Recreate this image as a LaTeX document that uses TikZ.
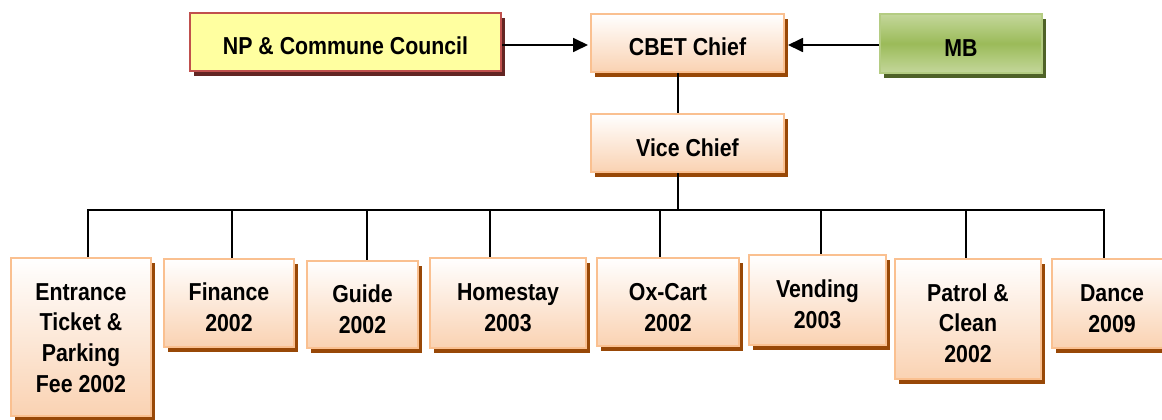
\documentclass[tikz,border=0pt]{standalone}
\usepackage{fontspec}
\newfontfamily\chartfont{Liberation Sans}[FakeStretch=0.87]
\usetikzlibrary{arrows.meta,shadows}

\definecolor{peachline}{RGB}{250,192,144}
\definecolor{peach}{RGB}{250,210,178}
\definecolor{peachshadow}{RGB}{152,72,7}
\definecolor{lemon}{RGB}{255,255,160}
\definecolor{lemonline}{RGB}{192,80,77}
\definecolor{lemonshadow}{RGB}{99,37,35}
\definecolor{leafpale}{RGB}{196,215,155}
\definecolor{leaf}{RGB}{155,187,89}
\definecolor{leafline}{RGB}{180,204,130}
\definecolor{leafshadow}{RGB}{79,98,40}

\begin{document}
\begin{tikzpicture}[x=1pt,y=-1pt,
  panel/.style={rectangle, inner sep=0pt, line width=2pt},
  unitbox/.style={panel, draw=peachline, top color=white, bottom color=peach,
    drop shadow={shadow xshift=4pt,shadow yshift=-5pt,fill=peachshadow,opacity=1}},
  councilbox/.style={panel, draw=lemonline, fill=lemon,
    drop shadow={shadow xshift=4pt,shadow yshift=-5pt,fill=lemonshadow,opacity=1}},
  mbbox/.style={panel, draw=leafline, top color=leafpale, bottom color=leafpale, middle color=leaf,
    drop shadow={shadow xshift=4pt,shadow yshift=-5pt,fill=leafshadow,opacity=1}},
  lbl/.style={inner sep=0pt, align=center,
    font=\chartfont\bfseries\fontsize{24.5}{30.7}\selectfont},
  wire/.style={draw=black, line width=1.7pt},
  feed/.style={draw=black, line width=1.8pt, -{Triangle[length=15pt,width=14pt]}}
]
\useasboundingbox (0,0) rectangle (1162,420);

% top row
\node[councilbox, minimum width=311pt, minimum height=58pt] (np) at (345.5,42) {};
\node[unitbox, minimum width=193pt, minimum height=58pt] (cbet) at (687.5,43) {};
\node[mbbox, minimum width=162pt, minimum height=59pt] (mb) at (961,43.5) {};
\node[unitbox, minimum width=193pt, minimum height=58pt] (vice) at (687.5,143) {};

\node[lbl] (np-t) at ([yshift=-4pt]np.center) {NP \& Commune Council};
\node[lbl] (cbet-t) at ([yshift=-4pt]cbet.center) {CBET Chief};
\node[lbl] (mb-t) at ([yshift=-4.5pt]mb.center) {MB};
\node[lbl] (vice-t) at ([yshift=-4.5pt]vice.center) {Vice Chief};

% unit boxes
\node[unitbox, minimum width=140pt, minimum height=158pt] (ent) at (81,337) {};
\node[unitbox, minimum width=130pt, minimum height=88pt] (fin) at (229,303) {};
\node[unitbox, minimum width=111pt, minimum height=87pt] (guide) at (362.5,304.5) {};
\node[unitbox, minimum width=156pt, minimum height=90pt] (home) at (508,303) {};
\node[unitbox, minimum width=142pt, minimum height=88pt] (ox) at (668,302) {};
\node[unitbox, minimum width=137pt, minimum height=90pt] (vend) at (817.5,300) {};
\node[unitbox, minimum width=146pt, minimum height=120pt] (patrol) at (968,319) {};
\node[unitbox, minimum width=120pt, minimum height=89pt] (dance) at (1112,303.5) {};

\node[lbl] (ent-t) at ([yshift=-1pt]ent.center) {Entrance\\Ticket \&\\Parking\\Fee 2002};
\node[lbl] (fin-t) at ([yshift=-4.5pt]fin.center) {Finance\\2002};
\node[lbl] (guide-t) at ([yshift=-5pt]guide.center) {Guide\\2002};
\node[lbl] (home-t) at ([yshift=-4.5pt]home.center) {Homestay\\2003};
\node[lbl] (ox-t) at ([yshift=-5.5pt]ox.center) {Ox-Cart\\2002};
\node[lbl] (vend-t) at ([yshift=-4.5pt]vend.center) {Vending\\2003};
\node[lbl] (patrol-t) at ([yshift=-4pt]patrol.center) {Patrol \&\\Clean\\2002};
\node[lbl] (dance-t) at ([yshift=-5.5pt]dance.center) {Dance\\2009};

% arrows into the chief
\draw[feed, shorten >=2pt] ([yshift=-2pt]cbet.west -| np.east) -- ([yshift=-2pt]cbet.west);
\draw[feed, shorten >=3pt] ([yshift=-2pt]cbet.east -| mb.west) -- ([yshift=-2pt]cbet.east);

% chief to vice chief to the bus
\coordinate (stem) at (678,210);
\draw[wire] (stem |- cbet.south) -- (stem |- vice.north);
\draw[wire] (stem |- vice.south) -- (stem);

% bus and drops
\coordinate (bus-ent) at (88,210);
\coordinate (bus-fin) at (232,210);
\coordinate (bus-guide) at (367,210);
\coordinate (bus-home) at (490,210);
\coordinate (bus-ox) at (660,210);
\coordinate (bus-vend) at (821,210);
\coordinate (bus-patrol) at (966,210);
\coordinate (bus-dance) at (1104,210);
\draw[wire, line cap=rect] (bus-ent) -- (bus-dance);
\foreach \u in {ent,fin,guide,home,ox,vend,patrol,dance}
  \draw[wire] (bus-\u) -- (bus-\u |- \u.north);
\end{tikzpicture}
\end{document}
